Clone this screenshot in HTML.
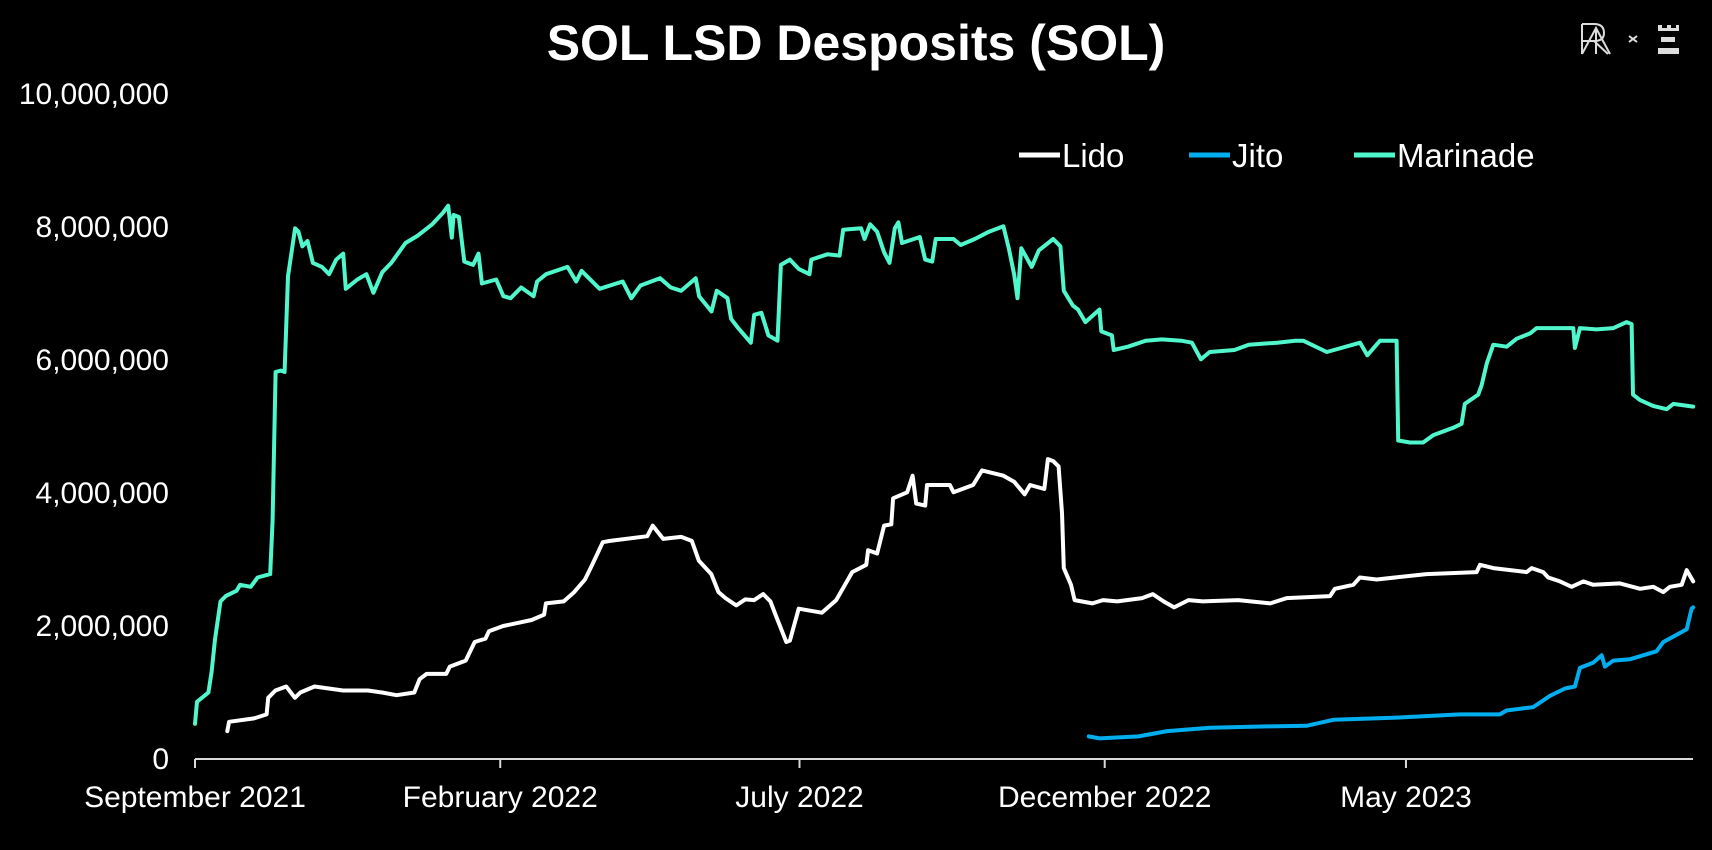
<!DOCTYPE html>
<html><head><meta charset="utf-8"><style>
html,body{margin:0;padding:0;background:#000;}
svg{display:block;font-family:"Liberation Sans",sans-serif;}
</style></head><body>
<svg id="chart" width="1712" height="850" viewBox="0 0 1712 850" xmlns="http://www.w3.org/2000/svg">
<rect width="1712" height="850" fill="#000"/>
<text x="856" y="60" text-anchor="middle" fill="#fff" font-size="50" font-weight="bold">SOL LSD Desposits (SOL)</text>
<g stroke="#ddd" stroke-width="2" fill="none">
<path d="M1582 24 V54 M1582 24 H1594 Q1604 24 1604 33 Q1604 41 1594 41 H1582 M1594 41 L1608 54 M1582 54 L1596 28 L1610 54 M1596 28 V54"/>
<path d="M1629 36 L1637 42 M1637 36 L1629 42"/>
<path d="M1658 25 h4 v3 h5 v-3 h4 v3 h5 v-3 h3 v6 h-21 z M1661 37 h14 v5 h-14 z M1658 48 h21 v6 h-21 z" fill="#ddd" stroke="none"/>
</g>
<g id="yaxis"></g>
<g id="xaxis"></g>
<g id="series"></g>
<g id="legend"></g>
</svg>
<script>
// values in millions of SOL, x = days since 2021-09-01
const yTicks = [0, 2, 4, 6, 8, 10];
const yTickLabels = ["0", "2,000,000", "4,000,000", "6,000,000", "8,000,000", "10,000,000"];
const xTickDays = [0, 153, 303, 456, 607];
const xTickLabels = ["September 2021", "February 2022", "July 2022", "December 2022", "May 2023"];
const seriesNames = ["Lido", "Jito", "Marinade"];
const marinadeDays = [0,1,6.7,8.3,10.1,12.8,15.4,20.8,22.6,27.9,31.4,37.7,38.9,40.4,43.1,44.9,46.6,50.2,51.9,53.8,56.4,59.1,63.6,67.2,70.8,74.3,75.6,81.4,85.9,89.4,93.9,98.4,105.5,111.7,118.9,124.2,126.9,128.7,129.6,132.3,135,139.4,142.1,143.8,151,154.6,158.2,163.5,169.7,171.5,176,186.7,191.1,193.8,202.8,214.4,218.7,223.3,233.1,238.5,243.7,251,252.7,258.9,261.5,266.9,268.7,272.3,278.6,280.3,283.9,287.4,292,293.7,298.2,302.6,308,308.9,317,323.1,324.9,333.9,335.6,338.4,341.9,345.4,348.1,350.8,352.6,354.4,363.3,366,369.5,371.3,380.2,383.8,390.9,398,405.2,407.9,410.6,412.3,414.2,419.4,423,430.2,433.8,435.5,440,442.6,446.3,453.4,454.3,459.6,460.5,467.6,476.6,484.6,494.4,499.7,504.2,508.6,521,528.2,542.5,551.5,555.5,567.3,584,587.6,594,602.3,603.1,609,615.6,620.7,630.7,634.9,636.5,643.2,644.9,647.5,650.8,657.5,662.5,669.2,672.5,679.2,690.9,691.7,694.2,702.6,711,717.6,720.1,720.8,724.2,730.9,737.7,741,751];
const marinadeValues = [0.53,0.86,1.0,1.31,1.81,2.37,2.45,2.53,2.62,2.59,2.73,2.78,3.59,5.82,5.84,5.82,7.26,7.98,7.93,7.71,7.79,7.46,7.40,7.29,7.51,7.6,7.07,7.21,7.29,7.01,7.32,7.46,7.76,7.87,8.04,8.21,8.32,7.84,8.18,8.15,7.48,7.43,7.6,7.15,7.21,6.96,6.93,7.09,6.96,7.18,7.29,7.4,7.18,7.34,7.07,7.18,6.93,7.12,7.23,7.09,7.04,7.23,6.96,6.73,7.04,6.93,6.62,6.48,6.26,6.68,6.71,6.37,6.29,7.43,7.51,7.37,7.29,7.51,7.59,7.57,7.96,7.98,7.82,8.04,7.93,7.62,7.46,7.98,8.07,7.76,7.85,7.51,7.48,7.82,7.82,7.73,7.82,7.93,8.01,7.68,7.29,6.93,7.68,7.4,7.65,7.82,7.71,7.04,6.82,6.76,6.57,6.76,6.43,6.37,6.15,6.2,6.29,6.31,6.29,6.26,6.01,6.12,6.15,6.23,6.26,6.29,6.29,6.12,6.26,6.07,6.29,6.29,4.79,4.76,4.76,4.87,4.98,5.04,5.34,5.48,5.62,5.95,6.23,6.2,6.32,6.4,6.48,6.48,6.48,6.18,6.48,6.46,6.48,6.57,6.54,5.48,5.4,5.31,5.26,5.34,5.3];
const lidoDays = [16.2,17.1,29.6,35.9,36.7,40.3,45.7,50.1,52.8,59.9,74.2,86.7,93.8,101,109.9,112.6,116.1,125.9,127.7,135.7,140.2,145.6,147.3,154.5,168.7,175,175.9,184.8,190.1,195.5,199.1,204.4,208,226.7,229.4,234.7,243.7,249,252.6,258.8,262.4,265.9,271.3,275.8,280.3,284.8,288.4,291,296.4,298.2,302.6,314.2,321.4,325.8,329.4,336.5,337.4,341.9,345.4,349,349.9,357,359.7,361.5,366,366.9,378.4,380.2,390,394.5,405.2,410.6,415.9,418.6,425.7,427.5,430.2,432.9,434.6,435.5,439.1,440.9,449.8,455.1,462.3,474.8,480.1,485.5,490.8,498,505.1,522.9,539,547.2,568.9,571.4,580.6,583.9,592.3,617.3,642.4,644.1,650.8,667.5,670,675.8,678.3,684.2,690,695.9,700.9,714.3,724.3,731,736,739.3,745.2,747.7,751];
const lidoValues = [0.42,0.56,0.61,0.67,0.92,1.03,1.09,0.92,1.0,1.09,1.03,1.03,1.0,0.96,1.0,1.2,1.28,1.28,1.39,1.48,1.76,1.81,1.92,2.0,2.09,2.17,2.34,2.37,2.51,2.7,2.92,3.26,3.28,3.35,3.51,3.31,3.34,3.28,2.98,2.78,2.51,2.42,2.31,2.4,2.39,2.48,2.37,2.17,1.76,1.78,2.26,2.2,2.39,2.62,2.81,2.92,3.14,3.09,3.51,3.53,3.92,4.01,4.26,3.84,3.81,4.12,4.12,4.01,4.12,4.34,4.26,4.17,3.98,4.12,4.06,4.51,4.48,4.4,3.7,2.87,2.62,2.39,2.34,2.39,2.37,2.42,2.48,2.37,2.28,2.39,2.37,2.39,2.34,2.42,2.45,2.56,2.62,2.73,2.7,2.78,2.81,2.92,2.87,2.81,2.87,2.81,2.73,2.67,2.59,2.67,2.62,2.64,2.56,2.59,2.51,2.59,2.62,2.84,2.67];
const jitoDays = [448,453.4,473,487.3,508.7,537.2,557.2,570.6,600.6,634.1,654.1,657.4,670.8,679.2,686.7,691.7,694.2,700.9,705.1,706.7,710.9,719.2,732.6,736,741,747.7,750.2,751];
const jitoValues = [0.34,0.31,0.34,0.42,0.47,0.49,0.5,0.59,0.62,0.67,0.67,0.73,0.78,0.95,1.06,1.09,1.37,1.45,1.56,1.39,1.48,1.5,1.62,1.76,1.84,1.95,2.26,2.28];

const NS = "http://www.w3.org/2000/svg";
const X0 = 195, PX_PER_DAY = 1.995, Y0 = 759, PX_PER_M = 66.5, XEND = 1693;
function xScale(d){ return X0 + d * PX_PER_DAY; }
function yScale(v){ return Y0 - v * PX_PER_M; }
function mk(tag, attrs, parent){ const e = document.createElementNS(NS, tag); for (const k in attrs) e.setAttribute(k, attrs[k]); parent.appendChild(e); return e; }

const yaxis = document.getElementById('yaxis');
yTicks.forEach((t, i) => {
  const tx = mk('text', {x: 169, y: yScale(t) + 10, 'text-anchor': 'end', fill: '#fff', 'font-size': 30}, yaxis);
  
  
  tx.textContent = yTickLabels[i];
});

const xaxis = document.getElementById('xaxis');
const axisLine = mk('line', {x1: X0, x2: XEND, y1: Y0, y2: Y0, stroke: '#d9d9d9', 'stroke-width': 2}, xaxis);


xTickDays.forEach((d, i) => {
  const tk = mk('line', {x1: xScale(d), x2: xScale(d), y1: Y0, y2: Y0 + 9, stroke: '#d9d9d9', 'stroke-width': 2}, xaxis);
  
  
  const tx = mk('text', {x: xScale(d), y: 807, 'text-anchor': 'middle', fill: '#fff', 'font-size': 30}, xaxis);
  
  
  tx.textContent = xTickLabels[i];
});

const series = document.getElementById('series');
function drawLine(days, vals, color, name){
  const pts = days.map((d, i) => xScale(d).toFixed(1) + ',' + yScale(vals[i]).toFixed(1)).join(' ');
  const pl = mk('polyline', {points: pts, fill: 'none', stroke: color, 'stroke-width': 4, 'stroke-linejoin': 'round', 'stroke-linecap': 'round'}, series);
  
  
}
drawLine(marinadeDays, marinadeValues, '#50f7cc', 'marinade-line');
drawLine(lidoDays, lidoValues, '#ffffff', 'lido-line');
drawLine(jitoDays, jitoValues, '#00aeef', 'jito-line');

const legend = document.getElementById('legend');
const legendColors = ['#ffffff', '#00aeef', '#50f7cc'];
const legendX = [1019, 1189, 1354];
seriesNames.forEach((n, i) => {
  const ln = mk('line', {x1: legendX[i], x2: legendX[i] + 41, y1: 155, y2: 155, stroke: legendColors[i], 'stroke-width': 5}, legend);
  
  
  const tx = mk('text', {x: legendX[i] + 43, y: 167, fill: '#fff', 'font-size': 33}, legend);
  
  
  tx.textContent = n;
});
</script>
</body></html>
